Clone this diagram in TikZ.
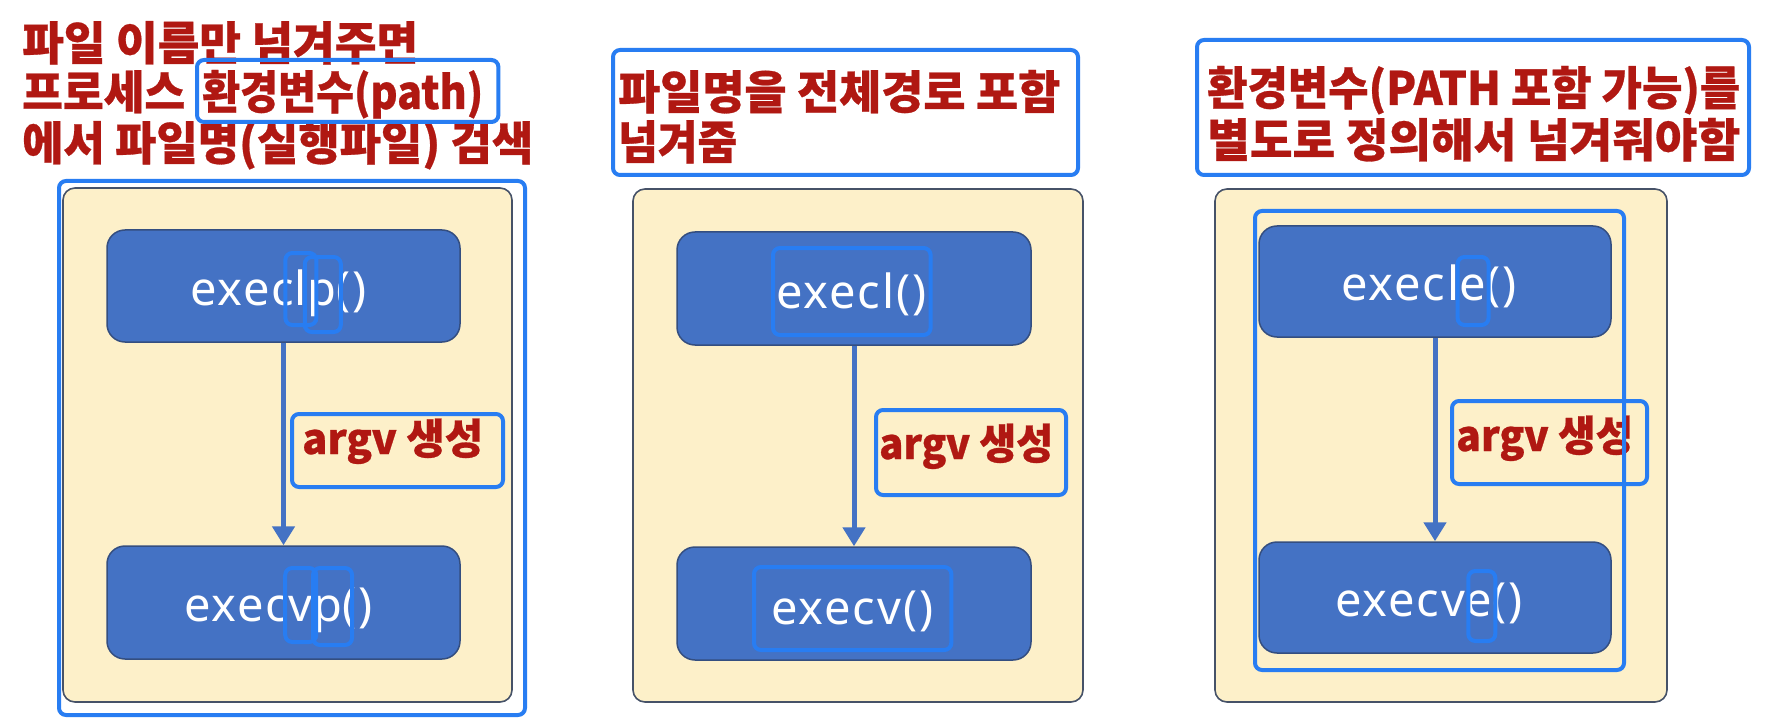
\documentclass[tikz,border=0pt]{standalone}
\usepackage{fontspec}
\usepackage{graphicx}
\usetikzlibrary{arrows.meta,calc}
\newfontfamily\kr{Noto Sans CJK KR}[BoldFeatures={FakeBold=0.6}]
\newfontfamily\ef{Noto Sans}[LetterSpace=4]
\definecolor{hlblue}{RGB}{40,125,242}
\definecolor{txtred}{RGB}{176,24,18}
\definecolor{creamfill}{RGB}{253,240,201}
\definecolor{creamline}{RGB}{70,82,104}
\definecolor{dfill}{RGB}{68,114,196}
\definecolor{dline}{RGB}{52,78,128}
\tikzset{
  hd/.style={anchor=base west, inner sep=0pt, text=txtred, font=\kr\bfseries\fontsize{46}{50}\selectfont},
  ag/.style={anchor=base west, inner sep=0pt, text=txtred, font=\kr\bfseries\fontsize{42}{46}\selectfont},
  ex/.style={anchor=base west, inner sep=0pt, text=white, font=\ef\fontsize{47}{50}\selectfont},
  hl/.style={draw=hlblue, line width=4pt, rounded corners=7pt},
  hlbox/.style={hl, inner sep=0pt},
  cream/.style={draw=creamline, fill=creamfill, line width=1.6pt, rounded corners=12pt, inner sep=0pt},
  dbox/.style={draw=dline, fill=dfill, line width=1.5pt, rounded corners=18pt, inner sep=0pt},
  arr/.style={draw=dfill, line width=5pt, -{Triangle[width=22pt,length=19pt]}},
}
\begin{document}
\begin{tikzpicture}[x=1pt,y=-1pt]
\useasboundingbox[fill=white] (0,0) rectangle (1772,722);

% ---------------- Panel 1 ----------------
\node[hd] (h1a) at (22,60) {\resizebox{396pt}{\height}{파일 이름만 넘겨주면}};
\node[hd] (h1b) at (22,109) {\resizebox{163pt}{\height}{프로세스}};
\node[hd] (h1c) at (202,109) {\resizebox{281pt}{\height}{환경변수(path)}};
\node[hd] (h1d) at (22,160) {\resizebox{511pt}{\height}{에서 파일명(실행파일) 검색}};
\draw[hl] ($(h1c.base west)+(-5,-49)$) rectangle ($(h1c.base east)+(15,13)$);

\node[cream, minimum width=449pt, minimum height=514pt] (c1) at (287.5,445) {};
\node[dbox, minimum width=353pt, minimum height=112pt] (b1t) at (283.5,286) {};
\node[dbox, minimum width=353pt, minimum height=113pt] (b1b) at (283.5,602.5) {};
\draw[arr] (b1t.south) -- (b1b.north);

\node[ex] (e1a) at (190,305) {exec};
\node[ex] (e1l) at (e1a.base east) {l};
\node[ex] (e1p) at (e1l.base east) {p};
\node[ex] (e1c) at (e1p.base east) {()};

\node[ex] (f1a) at (184,621) {exec};
\node[ex] (f1v) at (f1a.base east) {v};
\node[ex] (f1p) at (f1v.base east) {p};
\node[ex] (f1c) at (f1p.base east) {()};

\node[ag] (a1) at (302,454) {\resizebox{181pt}{\height}{argv 생성}};
\node[hlbox, minimum width=211pt, minimum height=73pt] (a1box) at (397.5,450.5) {};

\node[hlbox, minimum width=31pt, minimum height=72pt] (e1lh) at ($(e1l.base)+(0,-16)$) {};
\node[hlbox, minimum width=36pt, minimum height=75pt] (e1ph) at ($(e1p.base)+(1,-10.5)$) {};
\node[hlbox, minimum width=31pt, minimum height=74pt] (f1vh) at ($(f1v.base)+(0,-16)$) {};
\node[hlbox, minimum width=39pt, minimum height=77pt] (f1ph) at ($(f1p.base)+(5,-14.5)$) {};
\node[hlbox, minimum width=466pt, minimum height=534pt] (o1) at (292,448) {};

% ---------------- Panel 2 ----------------
\node[hd] (h2a) at (618,109) {\resizebox{442pt}{\height}{파일명을 전체경로 포함}};
\node[hd] (h2b) at (618,159) {\resizebox{119pt}{\height}{넘겨줌}};
\node[hlbox, minimum width=465pt, minimum height=125pt] (hb2) at (845.5,112.5) {};

\node[cream, minimum width=450pt, minimum height=513pt] (c2) at (858,445.5) {};
\node[dbox, minimum width=354pt, minimum height=113pt] (b2t) at (854,288.5) {};
\node[dbox, minimum width=354pt, minimum height=113pt] (b2b) at (854,603.5) {};
\draw[arr] (b2t.south) -- (b2b.north);

\node[ex] (e2) at (776,308) {execl()};
\node[ex] (f2) at (771,624) {execv()};
\draw[hl] ($(e2.base west)+(-3,-60)$) rectangle ($(e2.base east)+(4,27)$);
\draw[hl] ($(f2.base west)+(-17,-57)$) rectangle ($(f2.base east)+(18,26)$);

\node[ag] (a2) at (879,459) {\resizebox{174pt}{\height}{argv 생성}};
\node[hlbox, minimum width=190pt, minimum height=85pt] (a2box) at (971,452.5) {};

% ---------------- Panel 3 ----------------
\node[hd] (h3a) at (1207,105) {\resizebox{533pt}{\height}{환경변수(PATH 포함 가능)를}};
\node[hd] (h3b) at (1207,157) {\resizebox{533pt}{\height}{별도로 정의해서 넘겨줘야함}};
\node[hlbox, minimum width=552pt, minimum height=135pt] (hb3) at (1473,107.5) {};

\node[cream, minimum width=452pt, minimum height=513pt] (c3) at (1441,445.5) {};
\node[dbox, minimum width=352pt, minimum height=111pt] (b3t) at (1435,281.5) {};
\node[dbox, minimum width=352pt, minimum height=111pt] (b3b) at (1435,597.5) {};
\draw[arr] (b3t.south) -- (b3b.north);

\node[ex] (e3a) at (1341,300) {execl};
\node[ex] (e3e) at (e3a.base east) {e};
\node[ex] (e3c) at (e3e.base east) {()};
\node[ex] (f3a) at (1335,616) {execv};
\node[ex] (f3e) at (f3a.base east) {e};
\node[ex] (f3c) at (f3e.base east) {()};

\node[ag] (a3) at (1456,451) {\resizebox{177pt}{\height}{argv 생성}};

\node[hlbox, minimum width=31pt, minimum height=68pt] (e3eh) at ($(e3e.base)+(0,-9)$) {};
\node[hlbox, minimum width=27pt, minimum height=70pt] (f3eh) at ($(f3e.base)+(3,-10)$) {};
\node[hlbox, minimum width=369pt, minimum height=459pt] (o3) at (1439.5,440.5) {};
\node[hlbox, minimum width=195pt, minimum height=83pt] (a3box) at (1549.5,442.5) {};
\end{tikzpicture}
\end{document}
